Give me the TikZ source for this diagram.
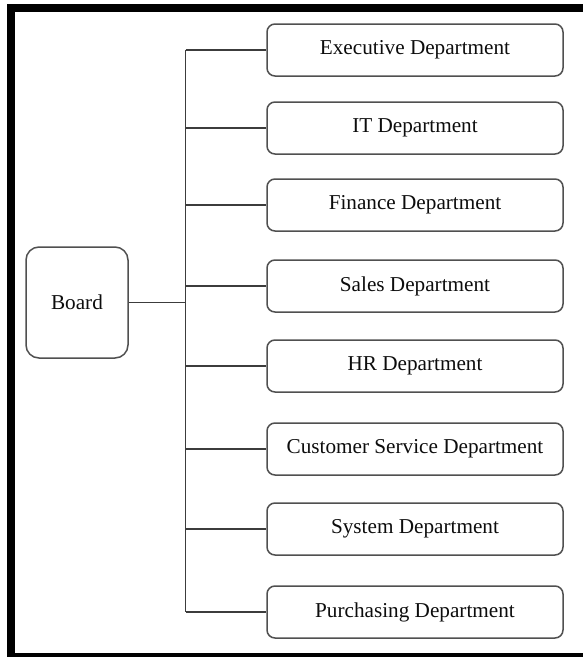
\documentclass[tikz,border=0pt]{standalone}
\usepackage{fontspec}
\setmainfont{Liberation Serif}
\definecolor{boxline}{RGB}{80,80,80}
\definecolor{conn}{RGB}{60,60,60}
\begin{document}
\begin{tikzpicture}[x=1pt,y=-1pt,
  dept/.style={draw=boxline,line width=1.5pt,rounded corners=8pt,minimum width=296pt,minimum height=52pt,inner sep=0pt,font=\fontsize{21.2}{24}\selectfont,text=black!95},
  boardbox/.style={draw=boxline,line width=1.5pt,rounded corners=13pt,minimum width=102pt,minimum height=111pt,inner sep=0pt,font=\fontsize{21.2}{24}\selectfont,text=black!95},
  conn/.style={draw=conn,line width=1.2pt},
  frame/.style={draw=black,line width=8pt}]
\useasboundingbox (0,0) rectangle (582,657);
\fill[white] (0,0) rectangle (582,657);
% frame
\draw[frame] (7,8) -- (600,8);
\draw[frame] (10.5,4) -- (10.5,670);
\draw[frame] (7,657) -- (600,657);
% nodes
\node[boardbox] (board) at (77,302.5) {Board};
\node[dept] (d1) at (415,50) {Executive Department};
\node[dept] (d2) at (415,128) {IT Department};
\node[dept] (d3) at (415,205) {Finance Department};
\node[dept] (d4) at (415,286) {Sales Department};
\node[dept] (d5) at (415,366) {HR Department};
\node[dept] (d6) at (415,449) {Customer Service Department};
\node[dept] (d7) at (415,529) {System Department};
\node[dept] (d8) at (415,612) {Purchasing Department};
\coordinate (top) at (185.5,50);
\coordinate (bot) at (185.5,612);
\coordinate (mid) at (185.5,302.5);
% connectors
\draw[conn] (top) -- (bot);
\draw[conn] (board.east) -- (mid);
\foreach \i in {1,...,8}{
  \draw[conn] (d\i.west -| top) -- (d\i.west);
}
\end{tikzpicture}
\end{document}
